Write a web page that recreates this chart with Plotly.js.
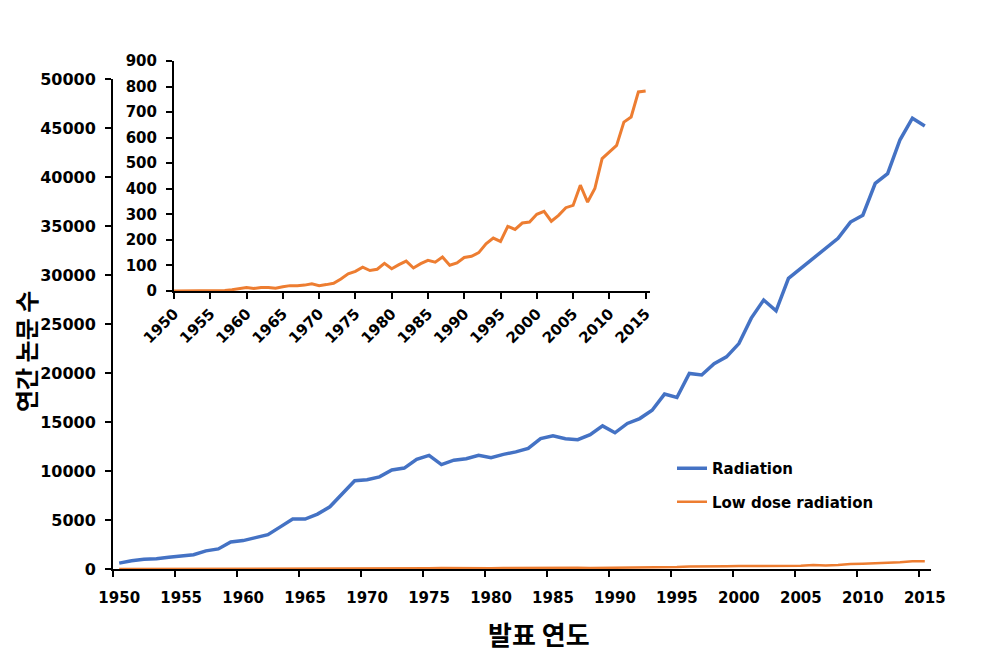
<!DOCTYPE html>
<html>
<head>
<meta charset="utf-8">
<script src="https://cdn.plot.ly/plotly-3.0.1.min.js"></script>
<style>html,body{margin:0;padding:0;background:#fff;}#chart{width:987px;height:658px;}</style>
</head>
<body>
<div id="chart"></div>
<script>
// Publication year
const years = [1950,1951,1952,1953,1954,1955,1956,1957,1958,1959,
  1960,1961,1962,1963,1964,1965,1966,1967,1968,1969,
  1970,1971,1972,1973,1974,1975,1976,1977,1978,1979,
  1980,1981,1982,1983,1984,1985,1986,1987,1988,1989,
  1990,1991,1992,1993,1994,1995,1996,1997,1998,1999,
  2000,2001,2002,2003,2004,2005,2006,2007,2008,2009,
  2010,2011,2012,2013,2014,2015];

// Annual papers: "Radiation"
const radiation = [600,850,1000,1050,1200,1300,1450,1850,2050,2750,
  2900,3200,3500,4300,5100,5100,5600,6350,7700,9000,
  9100,9400,10100,10300,11200,11600,10650,11100,11250,11600,
  11350,11700,11950,12300,13300,13600,13300,13200,13700,14600,
  13900,14850,15350,16200,17850,17500,19950,19800,20950,21650,
  23000,25600,27450,26350,29650,30700,31700,32700,33750,35400,
  36100,39350,40350,43800,46000,45200];

// Annual papers: "Low dose radiation"
const lowDose = [0,0,0,0,0,0,0,2,5,10,
  14,10,14,14,11,17,21,21,23,28,
  21,25,30,47,67,77,93,80,85,108,
  87,103,117,90,107,120,113,133,101,110,
  131,136,150,185,207,194,253,241,266,270,
  300,312,273,296,326,335,414,348,401,518,
  544,570,661,681,779,783];

const seriesNames = ["Radiation", "Low dose radiation"];
const xTitle = "발표 연도";
const yTitle = "연간 논문 수";

const yearCats = years.map(String);

const BLUE = "#4472C4";
const ORANGE = "#ED7D31";
const FAM = "DejaVu Sans, Noto Sans CJK KR";
const tickFont = {family: FAM, size: 15, color: "#000", weight: "bold"};
const tickFontY = {family: FAM, size: 16, color: "#000", weight: "bold"};

const traces = [
  {x: yearCats, y: radiation, type: "scatter", mode: "lines", name: seriesNames[0],
   line: {color: BLUE, width: 3.5}, xaxis: "x", yaxis: "y", legendgroup: "a"},
  {x: yearCats, y: lowDose, type: "scatter", mode: "lines", name: seriesNames[1],
   line: {color: ORANGE, width: 2.5}, xaxis: "x", yaxis: "y", legendgroup: "b"},
  {x: years, y: lowDose, type: "scatter", mode: "lines", name: seriesNames[1],
   line: {color: ORANGE, width: 3}, xaxis: "x2", yaxis: "y2", showlegend: false}
];

const W = 987, H = 658;
const mL = 113, mR = 56, mT = 61, mB = 89;
const plotH = H - mT - mB; // 508
const plotW = W - mL - mR; // 818

const layout = {
  width: W, height: H,
  margin: {l: mL, r: mR, t: mT, b: mB, pad: 0},
  paper_bgcolor: "#fff", plot_bgcolor: "rgba(0,0,0,0)",
  showlegend: true,
  legend: {
    x: (672 - mL) / plotW, y: (H - mB - 452) / plotH, xanchor: "left", yanchor: "top",
    font: {family: FAM, size: 15, color: "#000", weight: "bold"},
    bgcolor: "rgba(0,0,0,0)", traceorder: "grouped", tracegroupgap: 11
  },
  xaxis: {
    type: "category", domain: [0, 1], anchor: "y",
    range: [-0.5, years.length - 0.5],
    tickmode: "linear", tick0: 0, dtick: 5, tickson: "boundaries",
    ticks: "outside", ticklen: 6, tickwidth: 2, tickcolor: "#000",
    showline: true, linecolor: "#000", linewidth: 2,
    showgrid: false, zeroline: false, tickfont: tickFont, tickangle: 0,
    ticklabelstandoff: 14
  },
  yaxis: {
    domain: [0, (H - mB - 79) / plotH], anchor: "x",
    range: [0, 50000], tickmode: "linear", tick0: 0, dtick: 5000,
    ticks: "outside", ticklen: 6, tickwidth: 2, tickcolor: "#000",
    showline: true, linecolor: "#000", linewidth: 2,
    showgrid: false, zeroline: false, tickfont: tickFontY,
    tickformat: "d", ticklabelstandoff: 6
  },
  xaxis2: {
    domain: [(174 - mL) / plotW, (650 - mL) / plotW], anchor: "y2",
    range: [1950, 2015.6], tickmode: "linear", tick0: 1950, dtick: 5,
    ticks: "outside", ticklen: 6, tickwidth: 2, tickcolor: "#000",
    showline: true, linecolor: "#000", linewidth: 2,
    showgrid: false, zeroline: false, tickfont: tickFont, tickangle: -45
  },
  yaxis2: {
    domain: [(H - mB - 291) / plotH, 1], anchor: "x2",
    range: [0, 900], tickmode: "linear", tick0: 0, dtick: 100,
    ticks: "outside", ticklen: 6, tickwidth: 2, tickcolor: "#000",
    showline: true, linecolor: "#000", linewidth: 2,
    showgrid: false, zeroline: false, tickfont: tickFont, ticklabelstandoff: 6
  },
  annotations: [
    {text: xTitle, xref: "paper", yref: "paper",
     x: (539 - mL) / plotW, y: (H - mB - 633) / plotH, xanchor: "center", yanchor: "middle",
     showarrow: false, font: {family: "Noto Sans CJK KR", size: 26, color: "#000", weight: "bold"}},
    {text: yTitle, xref: "paper", yref: "paper", textangle: -90,
     x: (25 - mL) / plotW, y: (H - mB - 352) / plotH, xanchor: "center", yanchor: "middle",
     showarrow: false, font: {family: "Noto Sans CJK KR", size: 24, color: "#000", weight: "bold"}}
  ]
};

Plotly.newPlot("chart", traces, layout, {displayModeBar: false, staticPlot: true});
</script>
</body>
</html>
